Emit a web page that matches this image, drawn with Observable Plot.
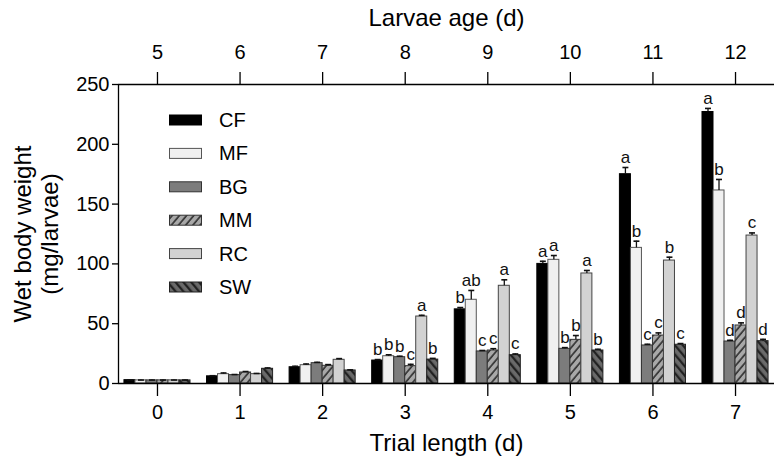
<!DOCTYPE html>
<html>
<head>
<meta charset="utf-8">
<script src="https://cdn.jsdelivr.net/npm/d3@7"></script>
<script src="https://cdn.jsdelivr.net/npm/@observablehq/plot@0.6"></script>
<style>
  html, body { margin: 0; padding: 0; background: #fff; }
  #chart { width: 779px; height: 465px; }
</style>
</head>
<body>
<div id="chart"></div>
<script>
// ---- data ----
const trials = [0, 1, 2, 3, 4, 5, 6, 7];
const larvaeAge = [5, 6, 7, 8, 9, 10, 11, 12];
const series = ["CF", "MF", "BG", "MM", "RC", "SW"];

const CF = [2.8, 6.0, 13.6, 19.2, 62.0, 100.0, 175.0, 227.0];
const MF = [2.6, 7.8, 15.3, 22.8, 70.0, 103.4, 113.4, 161.4];
const BG = [2.6, 7.0, 17.0, 22.0, 26.8, 29.0, 31.8, 35.1];
const MM = [2.6, 9.2, 14.8, 14.5, 27.6, 36.5, 40.1, 48.5];
const RC = [2.6, 7.8, 19.8, 56.0, 81.7, 92.0, 102.8, 123.7];
const SW = [2.6, 12.3, 10.9, 20.0, 23.7, 27.6, 32.4, 35.4];

const CF_err = [0.3, 0.5, 0.8, 0.8, 1.5, 2.2, 5.6, 3.0];
const MF_err = [0.3, 1.0, 1.0, 1.2, 7.8, 3.6, 5.6, 9.2];
const BG_err = [0.3, 0.5, 0.7, 0.8, 0.8, 1.0, 1.0, 1.0];
const MM_err = [0.3, 0.8, 1.0, 1.5, 1.5, 3.6, 2.2, 2.2];
const RC_err = [0.3, 0.6, 1.0, 1.0, 5.0, 2.5, 2.8, 2.2];
const SW_err = [0.3, 0.7, 0.5, 1.0, 1.0, 1.0, 1.0, 1.5];

const CF_sig = ["", "", "", "b", "b", "a", "a", "a"];
const MF_sig = ["", "", "", "b", "ab", "a", "b", "b"];
const BG_sig = ["", "", "", "b", "c", "b", "c", "d"];
const MM_sig = ["", "", "", "c", "c", "b", "c", "d"];
const RC_sig = ["", "", "", "a", "a", "a", "b", "c"];
const SW_sig = ["", "", "", "b", "c", "b", "c", "d"];

const yTicks = [0, 50, 100, 150, 200, 250];

// ---- table ----
const valueSets = {CF, MF, BG, MM, RC, SW};
const errSets = {CF: CF_err, MF: MF_err, BG: BG_err, MM: MM_err, RC: RC_err, SW: SW_err};
const sigSets = {CF: CF_sig, MF: MF_sig, BG: BG_sig, MM: MM_sig, RC: RC_sig, SW: SW_sig};
const rows = [];
trials.forEach((t, ti) => {
  series.forEach((s, si) => {
    rows.push({trial: t, series: s, i: si, value: valueSets[s][ti], err: errSets[s][ti], sig: sigSets[s][ti]});
  });
});

// ---- layout ----
const groupWidth = 0.8;
const barW = groupWidth / series.length;
const left = d => d.trial - groupWidth / 2 + d.i * barW;
const center = d => left(d) + barW / 2;
const capHalf = 0.036;
const xDomain = [-0.472, 7.472];

const fills = ["#000000", "#f0f0f0", "#7c7c7c", "url(#hatchMM)", "#d2d2d2", "url(#hatchSW)"];
const strokes = ["#000000", "#555555", "#333333", "#333333", "#444444", "#222222"];
const font = "'Liberation Sans', Arial, Helvetica, sans-serif";

const chart = Plot.plot({
  width: 779,
  height: 465,
  marginLeft: 118,
  marginRight: 5,
  marginTop: 84,
  marginBottom: 82,
  style: {fontFamily: font, fontSize: "20px", color: "#000", background: "#fff", overflow: "visible"},
  x: {domain: xDomain},
  y: {domain: [0, 250]},
  color: {type: "ordinal", domain: series, range: fills},
  marks: [
    Plot.rectY(rows, {
      x1: left,
      x2: d => left(d) + barW,
      y: "value",
      fill: "series",
      stroke: d => strokes[d.i],
      strokeWidth: 1
    }),
    Plot.ruleX(rows, {x: center, y1: "value", y2: d => d.value + d.err, stroke: "#111", strokeWidth: 1.3}),
    Plot.link(rows, {
      x1: d => center(d) - capHalf, x2: d => center(d) + capHalf,
      y1: d => d.value + d.err, y2: d => d.value + d.err,
      stroke: "#111", strokeWidth: 1.6
    }),
    Plot.text(rows.filter(d => d.sig), {
      x: center, y: d => d.value + d.err, text: "sig",
      dy: -10, fontSize: 17, fill: "#111"
    }),
    Plot.ruleY([0], {stroke: "#000", strokeWidth: 1.3}),
    Plot.ruleY([250], {stroke: "#000", strokeWidth: 1.3}),
    Plot.ruleX([xDomain[0]], {y1: 0, y2: 250, stroke: "#000", strokeWidth: 1.3}),
    Plot.axisY({ticks: yTicks, tickSize: 6, tickPadding: 3, fontSize: 20, label: null, strokeWidth: 1.3}),
    Plot.axisX({anchor: "bottom", ticks: trials, tickFormat: d => String(d), tickSize: 13, tickPadding: 8, fontSize: 20, label: null, strokeWidth: 1.3}),
    Plot.axisX({anchor: "top", ticks: trials, tickFormat: d => String(larvaeAge[trials.indexOf(d)]), tickSize: 13, tickPadding: 13, fontSize: 20, label: null, strokeWidth: 1.3}),
    Plot.text(["Larvae age (d)"], {frameAnchor: "top", dy: -76, fontSize: 24}),
    Plot.text(["Trial length (d)"], {frameAnchor: "bottom", dy: 67, fontSize: 24}),
    Plot.text(["Wet body weight\n(mg/larvae)"], {frameAnchor: "left", textAnchor: "middle", dx: -83, rotate: -90, fontSize: 24, lineHeight: 1.15})
  ]
});

document.getElementById("chart").appendChild(chart);

// ---- hatch patterns ----
const svg = d3.select(chart);
const defs = svg.insert("defs", ":first-child");
const mm = defs.append("pattern").attr("id", "hatchMM").attr("patternUnits", "userSpaceOnUse")
  .attr("width", 5.5).attr("height", 5.5).attr("patternTransform", "rotate(40)");
mm.append("rect").attr("width", 5.5).attr("height", 5.5).attr("fill", "#a8a8a8");
mm.append("line").attr("x1", 1).attr("y1", 0).attr("x2", 1).attr("y2", 5.5).attr("stroke", "#2e2e2e").attr("stroke-width", 1.6);
const sw = defs.append("pattern").attr("id", "hatchSW").attr("patternUnits", "userSpaceOnUse")
  .attr("width", 6).attr("height", 6).attr("patternTransform", "rotate(-40)");
sw.append("rect").attr("width", 6).attr("height", 6).attr("fill", "#6a6a6a");
sw.append("line").attr("x1", 1.2).attr("y1", 0).attr("x2", 1.2).attr("y2", 6).attr("stroke", "#1e1e1e").attr("stroke-width", 2.2);

// ---- legend (inside plot area) ----
const lg = svg.append("g").attr("font-family", font).attr("font-size", 20).attr("text-anchor", "start");
series.forEach((s, i) => {
  const cy = 120 + i * 33.4;
  lg.append("rect").attr("x", 169.5).attr("y", cy - 5).attr("width", 32).attr("height", 10)
    .attr("fill", fills[i]).attr("stroke", strokes[i]).attr("stroke-width", 1);
  lg.append("text").attr("x", 219).attr("y", cy).attr("dy", "0.35em").text(s);
});
</script>
</body>
</html>
